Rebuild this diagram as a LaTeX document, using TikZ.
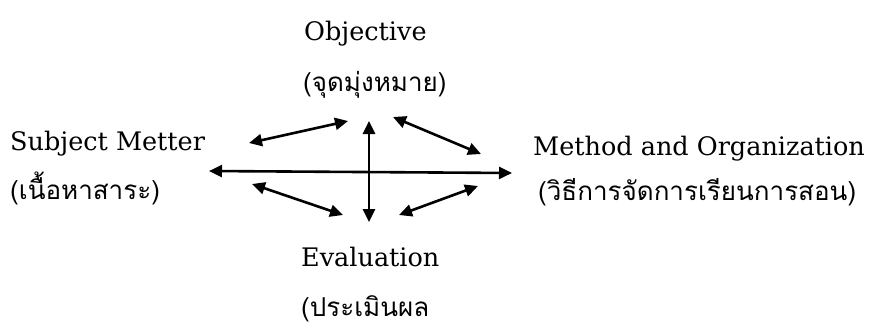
\documentclass[tikz,border=0pt]{standalone}
\usepackage{fontspec}
\setmainfont{DejaVu Serif}
\newfontfamily\thaifont[Script=Thai]{Loma}
\usetikzlibrary{arrows.meta}
\begin{document}
\begin{tikzpicture}[x=1pt,y=-1pt,
  lbl/.style={inner sep=0pt, font=\fontsize{25.5}{30}\selectfont},
  th/.style={inner sep=0pt, font=\thaifont\fontsize{26}{31}\selectfont},
  arr/.style={{Triangle[length=13pt,width=12pt]}-{Triangle[length=13pt,width=12pt]}, line width=2.6pt}]
\useasboundingbox (0,0) rectangle (872,327);
% labels
\node[lbl, anchor=base west] (obj) at (304,40) {Objective};
\node[th, anchor=base west] (objth) at (303,91) {(จุดมุ่งหมาย)};
\node[lbl, anchor=base west] (sub) at (10,150) {Subject Metter};
\node[th, anchor=base west] (subth) at (10,199) {(เนื้อหาสาระ)};
\node[lbl, anchor=base west] (met) at (533,155) {Method and Organization};
\node[th, anchor=base west] (metth) at (538,200) {(วิธีการจัดการเรียนการสอน)};
\node[lbl, anchor=base west] (eva) at (301,266) {Evaluation};
\node[th, anchor=base west] (evath) at (301,316) {(ประเมินผล};
% arrow end points
\coordinate (hl) at (209,171);
\coordinate (hr) at (512,173);
\coordinate (vt) at (369,121);
\coordinate (vb) at (369,222);
\coordinate (ula) at (249,143);
\coordinate (ulb) at (348,121);
\coordinate (lla) at (252,184);
\coordinate (llb) at (343,215);
\coordinate (ura) at (393,117);
\coordinate (urb) at (481,154);
\coordinate (lra) at (478,186);
\coordinate (lrb) at (399,215);
% arrows
\draw[arr] (hl) -- (hr);
\draw[arr] (vt) -- (vb);
\draw[arr] (ula) -- (ulb);
\draw[arr] (lla) -- (llb);
\draw[arr] (ura) -- (urb);
\draw[arr] (lra) -- (lrb);
\end{tikzpicture}
\end{document}
